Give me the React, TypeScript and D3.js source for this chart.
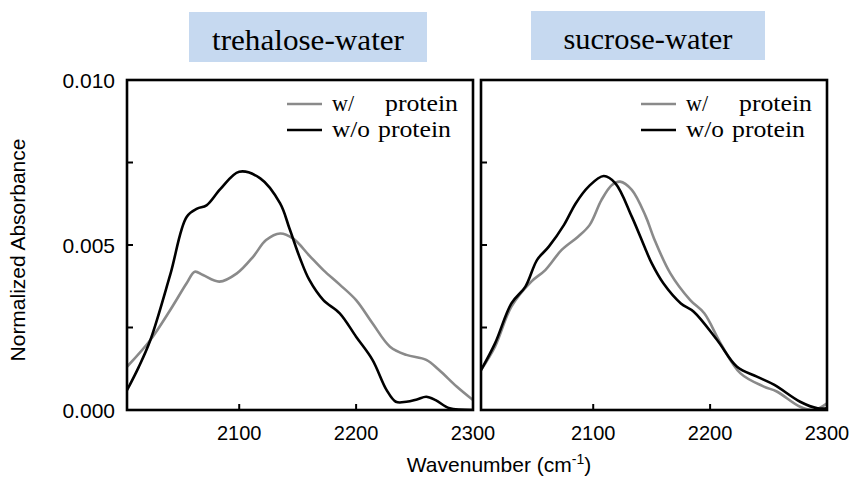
import React from "react";
import * as d3 from "d3";

// ---- data ----
const panelTitles = ["trehalose-water", "sucrose-water"];
const legendLabels = ["w/", "w/o"];
const legendWord = "protein";
const xTicks = [2100, 2200, 2300];
const yTickLabels = [0, 0.005, 0.01];
const yMinorTicks = [0.0025, 0.005, 0.0075];
const xDomain = [2004, 2300];
const yDomain = [0, 0.01];

const treWithW = [2004, 2024, 2041, 2055, 2062, 2069, 2083, 2098, 2112, 2123, 2135, 2146, 2160, 2172, 2186, 2200, 2214, 2229, 2243, 2260, 2271, 2286, 2300];
const treWithV = [1.31, 2.12, 3.03, 3.84, 4.19, 4.09, 3.89, 4.14, 4.65, 5.15, 5.35, 5.2, 4.68, 4.24, 3.8, 3.33, 2.63, 1.92, 1.67, 1.52, 1.21, 0.71, 0.3];

const treWithoutW = [2004, 2014, 2024, 2041, 2055, 2064, 2072, 2084, 2100, 2118, 2135, 2143, 2152, 2160, 2172, 2186, 2200, 2214, 2226, 2234, 2243, 2252, 2260, 2268, 2280, 2300];
const treWithoutV = [0.6, 1.3, 2.12, 4.1, 5.85, 6.1, 6.2, 6.7, 7.22, 7.02, 6.26, 5.5, 4.6, 3.94, 3.33, 2.93, 2.22, 1.52, 0.61, 0.25, 0.25, 0.32, 0.4, 0.3, 0.05, 0.0];

const sucWithW = [2004, 2016, 2030, 2047, 2059, 2073, 2087, 2097, 2107, 2116, 2123, 2133, 2145, 2152, 2166, 2183, 2195, 2209, 2226, 2246, 2257, 2277, 2289, 2300];
const sucWithV = [1.21, 1.92, 3.13, 3.89, 4.24, 4.85, 5.25, 5.61, 6.36, 6.82, 6.92, 6.67, 5.86, 5.2, 4.14, 3.33, 2.93, 2.02, 1.11, 0.71, 0.56, 0.1, 0.0, 0.2];

const sucWithoutW = [2004, 2016, 2030, 2042, 2052, 2062, 2075, 2085, 2096, 2109, 2119, 2133, 2145, 2150, 2160, 2175, 2186, 2206, 2223, 2240, 2255, 2277, 2292, 2300];
const sucWithoutV = [1.21, 2.02, 3.23, 3.74, 4.55, 4.95, 5.61, 6.26, 6.77, 7.09, 6.87, 5.86, 4.85, 4.45, 3.84, 3.23, 2.98, 2.12, 1.31, 1.01, 0.76, 0.25, 0.05, 0.05];

const GRAY = "#8a8a8a";
const BLACK = "#000";

type Series = { w: number[]; v: number[]; color: string };

const panels: { title: string; series: Series[] }[] = [
  {
    title: panelTitles[0],
    series: [
      { w: treWithW, v: treWithV, color: GRAY },
      { w: treWithoutW, v: treWithoutV, color: BLACK },
    ],
  },
  {
    title: panelTitles[1],
    series: [
      { w: sucWithW, v: sucWithV, color: GRAY },
      { w: sucWithoutW, v: sucWithoutV, color: BLACK },
    ],
  },
];

const panelX = [
  [127, 473],
  [481, 827],
];
const titleBoxes = [
  { x: 189, y: 12, w: 238, h: 50, tl: 192 },
  { x: 531, y: 11, w: 234, h: 49, tl: 169 },
];
const TOP = 80;
const BOTTOM = 410;
const SERIF = "'Liberation Serif', 'Times New Roman', serif";
const SANS = "'Liberation Sans', Arial, sans-serif";

function Panel({ idx }: { idx: number }) {
  const p = panels[idx];
  const [x0, x1] = panelX[idx];
  const x = d3.scaleLinear().domain(xDomain).range([x0, x1]);
  const y = d3.scaleLinear().domain(yDomain).range([BOTTOM, TOP]);
  const line = d3
    .line<[number, number]>()
    .x((d) => x(d[0]))
    .y((d) => y(d[1] / 1000))
    .curve(d3.curveCatmullRom.alpha(0.5));
  const tb = titleBoxes[idx];
  const legX = x1 - 186;
  return (
    <g>
      <rect x={tb.x} y={tb.y} width={tb.w} height={tb.h} fill="#c6d9f0" />
      <text
        x={tb.x + tb.w / 2 - tb.tl / 2}
        y={tb.y + 38}
        fontFamily={SERIF}
        fontSize={30}
        textLength={tb.tl}
        lengthAdjust="spacingAndGlyphs"
        fill="#000"
      >
        {p.title}
      </text>
      <defs>
        <clipPath id={`clip${idx}`}>
          <rect x={x0} y={TOP} width={x1 - x0} height={BOTTOM - TOP} />
        </clipPath>
      </defs>
      <g clipPath={`url(#clip${idx})`}>
        {p.series.map((s, i) => (
          <path
            key={i}
            d={line(s.w.map((w, j) => [w, s.v[j]] as [number, number])) || ""}
            fill="none"
            stroke={s.color}
            strokeWidth={2.6}
          />
        ))}
      </g>
      {yMinorTicks.map((t) => (
        <line key={t} x1={x0} x2={x0 + 6} y1={y(t)} y2={y(t)} stroke="#000" strokeWidth={2} />
      ))}
      {xTicks
        .filter((t) => t < xDomain[1])
        .map((t) => (
          <line key={t} x1={x(t)} x2={x(t)} y1={BOTTOM} y2={BOTTOM - 6} stroke="#000" strokeWidth={2} />
        ))}
      <rect x={x0} y={TOP} width={x1 - x0} height={BOTTOM - TOP} fill="none" stroke="#000" strokeWidth={2.6} />
      {xTicks.map((t) => (
        <text key={t} x={x(t)} y={440} textAnchor="middle" fontFamily={SANS} fontSize={20} fill="#000">
          {t}
        </text>
      ))}
      {legendLabels.map((lab, i) => {
        const ly = 104 + i * 26;
        return (
          <g key={lab}>
            <line x1={legX} x2={legX + 35} y1={ly} y2={ly} stroke={i === 0 ? GRAY : BLACK} strokeWidth={2.6} />
            <text
              x={legX + 45}
              y={ly + 7}
              fontFamily={SERIF}
              fontSize={24}
              textLength={i === 0 ? 22 : 38}
              lengthAdjust="spacingAndGlyphs"
              fill="#000"
            >
              {lab}
            </text>
            <text
              x={legX + (i === 0 ? 98 : 91)}
              y={ly + 7}
              fontFamily={SERIF}
              fontSize={24}
              textLength={73}
              lengthAdjust="spacingAndGlyphs"
              fill="#000"
            >
              {legendWord}
            </text>
          </g>
        );
      })}
    </g>
  );
}

export default function App() {
  const y = d3.scaleLinear().domain(yDomain).range([BOTTOM, TOP]);
  return (
    <svg width={852} height={477} style={{ position: "absolute", left: 0, top: 0, background: "#fff" }}>
      <rect width={852} height={477} fill="#fff" />
      <Panel idx={0} />
      <Panel idx={1} />
      {yTickLabels.map((t) => (
        <text key={t} x={115} y={y(t) + 8} textAnchor="end" fontFamily={SANS} fontSize={21} fill="#000">
          {d3.format(".3f")(t)}
        </text>
      ))}
      <text
        transform={`translate(25,250) rotate(-90)`}
        textAnchor="middle"
        fontFamily={SANS}
        fontSize={21}
        fill="#000"
      >
        Normalized Absorbance
      </text>
      <text x={499} y={472} textAnchor="middle" fontFamily={SANS} fontSize={21} fill="#000">
        Wavenumber (cm
        <tspan fontSize={14} dy={-8}>-1</tspan>
        <tspan dy={8}>)</tspan>
      </text>
    </svg>
  );
}
